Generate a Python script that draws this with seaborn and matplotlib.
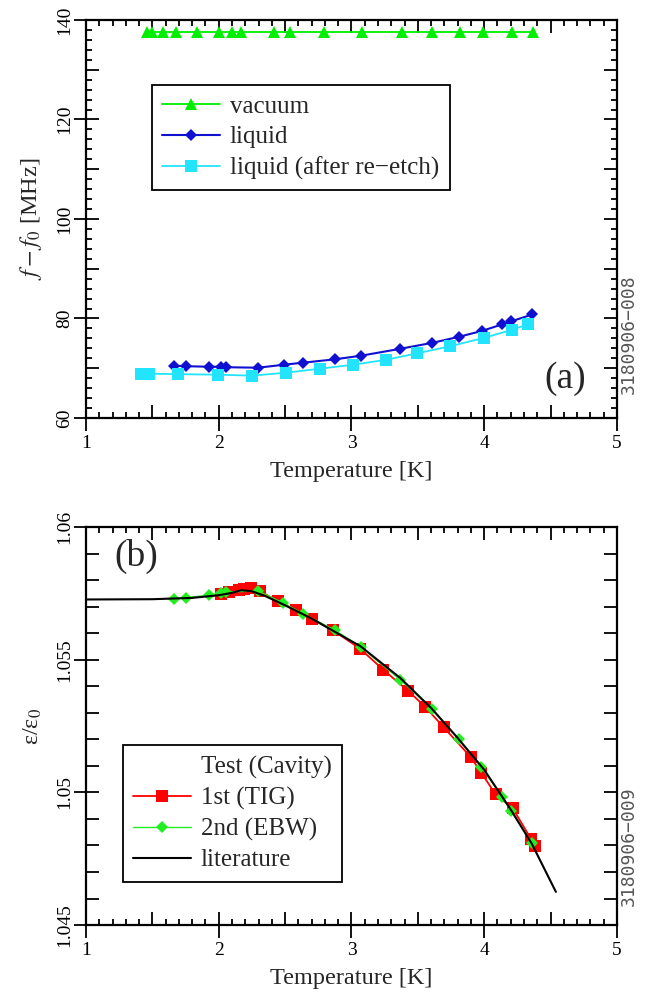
import numpy as np
import pandas as pd
import matplotlib
matplotlib.use("Agg")
import matplotlib.pyplot as plt
import seaborn as sns
from matplotlib.ticker import MultipleLocator, FixedLocator, FuncFormatter, NullLocator
from matplotlib.lines import Line2D

# ---------------- data (panel a) ----------------
vac_T = [1.46, 1.50, 1.58, 1.68, 1.84, 2.00, 2.10, 2.17, 2.42, 2.54, 2.79, 3.08,
         3.38, 3.61, 3.82, 3.99, 4.21, 4.37]
vac_f = [137.5] * len(vac_T)

liq_T = [1.664, 1.753, 1.925, 2.014, 2.054, 2.297, 2.490, 2.633, 2.878, 3.069,
         3.367, 3.609, 3.808, 3.983, 4.134, 4.201, 4.362]
liq_f = [70.5, 70.4, 70.3, 70.3, 70.2, 70.1, 70.7, 71.1, 71.8, 72.5,
         73.9, 75.1, 76.3, 77.5, 78.8, 79.4, 80.8]

etch_T = [1.414, 1.476, 1.694, 1.993, 2.251, 2.506, 2.762, 3.012, 3.262, 3.496,
          3.741, 3.999, 4.206, 4.327]
etch_f = [68.9, 68.9, 68.8, 68.7, 68.5, 69.1, 69.9, 70.7, 71.7, 73.0,
          74.4, 76.1, 77.7, 78.8]

# ---------------- data (panel b) ----------------
tig_T = [2.014, 2.081, 2.149, 2.189, 2.243, 2.310, 2.444, 2.579, 2.700, 2.861,
         3.063, 3.238, 3.426, 3.556, 3.695, 3.897, 3.978, 4.085, 4.215, 4.354, 4.381]
tig_e = [1.05747, 1.05755, 1.05762, 1.05768, 1.05771, 1.05759, 1.05721, 1.05686,
         1.05655, 1.05611, 1.05542, 1.05463, 1.05383, 1.05322, 1.05245, 1.05134,
         1.05074, 1.04993, 1.04940, 1.04823, 1.04798]

ebw_T = [1.664, 1.753, 1.925, 2.014, 2.054, 2.297, 2.485, 2.633, 2.875, 3.069,
         3.367, 3.609, 3.808, 3.978, 4.134, 4.201, 4.362]
ebw_e = [1.05730, 1.05734, 1.05743, 1.05752, 1.05755, 1.05759, 1.05714, 1.05674,
         1.05611, 1.05548, 1.05425, 1.05314, 1.05201, 1.05096, 1.04983, 1.04931,
         1.04808]

lit_T = [1.0, 1.5, 1.8, 2.0, 2.1, 2.17, 2.25, 2.35, 2.5, 2.7, 2.9, 3.07, 3.37,
         3.6, 3.8, 4.0, 4.2, 4.36, 4.54]
lit_e = [1.05727, 1.05728, 1.05733, 1.05743, 1.05752, 1.05762, 1.05758, 1.05740,
         1.05705, 1.05655, 1.05598, 1.05550, 1.05430, 1.05318, 1.05205, 1.05085,
         1.04935, 1.04805, 1.04625]

xticks = [1, 2, 3, 4, 5]
xticklabels = ["1", "2", "3", "4", "5"]
yticks_a = [60, 80, 100, 120, 140]
yticklabels_a = ["60", "80", "100", "120", "140"]
yticks_b = [1.045, 1.05, 1.055, 1.06]
yticklabels_b = ["1.045", "1.05", "1.055", "1.06"]

# ---------------- style ----------------
sns.set_theme(style="ticks")
plt.rcParams["font.family"] = ["Liberation Serif", "DejaVu Serif"]
plt.rcParams["mathtext.fontset"] = "stix"
plt.rcParams["axes.linewidth"] = 1.6

fig = plt.figure(figsize=(6.48, 9.98), dpi=100)
axA = fig.add_axes([0.1327, 0.5812, 0.8194, 0.3988])
axB = fig.add_axes([0.1327, 0.0731, 0.8194, 0.3988])

TS = 14      # tick labels
LS = 17.5    # axis labels
GS = 18      # legend


def label_formatter(ticks, labels):
    def f(v, pos):
        for t, l in zip(ticks, labels):
            if abs(v - t) < 1e-7 * max(1.0, abs(t)):
                return l
        return ""
    return FuncFormatter(f)


def setup_axis(ax, ymid_step, yminor_step, yticks, yticklabels):
    ax.set_xlim(1, 5)
    ax.xaxis.set_major_locator(MultipleLocator(0.5))
    ax.xaxis.set_major_formatter(label_formatter(xticks, xticklabels))
    ax.xaxis.set_minor_locator(MultipleLocator(0.1))
    ax.yaxis.set_major_locator(MultipleLocator(ymid_step))
    ax.yaxis.set_major_formatter(label_formatter(yticks, yticklabels))
    if yminor_step:
        ax.yaxis.set_minor_locator(MultipleLocator(yminor_step))
    else:
        ax.yaxis.set_minor_locator(NullLocator())
    ax.tick_params(which="both", top=True, right=True, direction="in",
                   labelsize=TS, colors="black", width=1.3)
    ax.tick_params(which="major", length=9.5)
    ax.tick_params(which="minor", length=4.5)
    ax.tick_params(axis="x", which="major", pad=12.5)
    ax.tick_params(axis="y", which="major", pad=9, labelrotation=90)
    for lab in ax.get_yticklabels():
        lab.set_va("center")
    for s in ax.spines.values():
        s.set_color("black")
        s.set_linewidth(1.6)
    # outward part of the labelled ticks (bottom / left only)
    sx = ax.secondary_xaxis("bottom")
    sx.set_xticks(xticks)
    sx.xaxis.set_minor_locator(NullLocator())
    sx.tick_params(direction="out", length=9, width=1.3, labelbottom=False,
                   colors="black")
    sx.spines["bottom"].set_visible(False)
    sy = ax.secondary_yaxis("left")
    sy.set_yticks(yticks)
    sy.yaxis.set_minor_locator(NullLocator())
    sy.tick_params(direction="out", length=9, width=1.3, labelleft=False,
                   colors="black")
    sy.spines["left"].set_visible(False)
    ax.set_xlabel("Temperature [K]", fontsize=LS, va="top")
    ax.xaxis.set_label_coords(0.5, -0.108)


# ---------------- panel (a) ----------------
sns.lineplot(x=vac_T, y=vac_f, ax=axA, color="#00ee00", marker="^", markersize=8.5,
             markeredgewidth=0, linewidth=1.3, label="vacuum")
sns.lineplot(x=liq_T, y=liq_f, ax=axA, color="#1010d0", marker="D", markersize=6.5,
             markeredgewidth=0, linewidth=1.5, label="liquid")
sns.lineplot(x=etch_T, y=etch_f, ax=axA, color="#22e4ff", marker="s", markersize=8.5,
             markeredgewidth=0, linewidth=1.3, label="liquid (after re\u2212etch)")
axA.set_ylim(60, 140)
setup_axis(axA, 10, 2, yticks_a, yticklabels_a)
axA.set_ylabel(r"$f - f_0$ [MHz]", fontsize=LS)
axA.yaxis.set_label_coords(-0.08, 0.5)
legA = axA.legend(loc="upper left", bbox_to_anchor=(0.124, 0.837), fontsize=GS,
                  frameon=True, fancybox=False, edgecolor="black", framealpha=1,
                  handlelength=2.3, borderpad=0.42, labelspacing=0.32,
                  handletextpad=0.4, borderaxespad=0)
legA.get_frame().set_linewidth(1.3)
axA.text(0.902, 0.098, "(a)", transform=axA.transAxes, fontsize=27,
         ha="center", va="center")
axA.text(1.0226, 0.21, "3180906\u2212008", transform=axA.transAxes, rotation=90,
         fontsize=13, color="#555555", family="DejaVu Sans Mono",
         ha="center", va="center")

# ---------------- panel (b) ----------------
sns.lineplot(x=lit_T, y=lit_e, ax=axB, color="black", linewidth=1.5, zorder=4,
             label="_lit")
sns.lineplot(x=tig_T, y=tig_e, ax=axB, color="#ff0000", marker="s", markersize=9,
             markeredgewidth=0, linewidth=1.3, zorder=2, label="_tig")
sns.lineplot(x=ebw_T, y=ebw_e, ax=axB, color="#22ee22", marker="D", markersize=6,
             markeredgewidth=0, linewidth=1.0, zorder=3, label="_ebw")
axB.set_ylim(1.045, 1.06)
setup_axis(axB, 0.001, None, yticks_b, yticklabels_b)
axB.set_ylabel("\u03b5/\u03b5$_0$", fontsize=LS)
axB.yaxis.set_label_coords(-0.08, 0.5)

handles = [Line2D([], [], color="none"),
           Line2D([], [], color="#ff0000", marker="s", markersize=9, markeredgewidth=0, linewidth=1.3),
           Line2D([], [], color="#22ee22", marker="D", markersize=6, markeredgewidth=0, linewidth=1.0),
           Line2D([], [], color="black", linewidth=1.5)]
labels = ["Test (Cavity)", "1st (TIG)", "2nd (EBW)", "literature"]
legB = axB.legend(handles, labels, loc="upper left", bbox_to_anchor=(0.069, 0.452),
                  fontsize=GS, frameon=True, fancybox=False, edgecolor="black",
                  framealpha=1, handlelength=2.3, borderpad=0.42, labelspacing=0.32,
                  handletextpad=0.4, borderaxespad=0)
legB.get_frame().set_linewidth(1.3)
axB.text(0.095, 0.925, "(b)", transform=axB.transAxes, fontsize=27,
         ha="center", va="center")
axB.text(1.0226, 0.198, "3180906\u2212009", transform=axB.transAxes, rotation=90,
         fontsize=13, color="#555555", family="DejaVu Sans Mono",
         ha="center", va="center")

fig.savefig("out.png", dpi=100)
